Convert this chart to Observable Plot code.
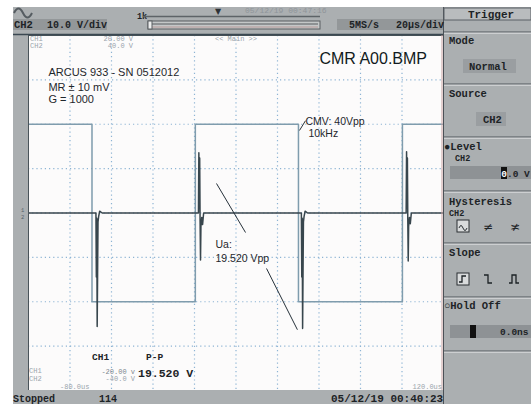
<!DOCTYPE html>
<html><head><meta charset="utf-8">
<script src="https://cdn.jsdelivr.net/npm/d3@7"></script>
<script src="https://cdn.jsdelivr.net/npm/@observablehq/plot@0.6"></script>
<style>
body{margin:0;background:#fff;}
#wrap{position:relative;width:531px;height:407px;overflow:hidden;background:#fff;}
</style></head><body><div id="wrap"></div>
<script>
// ---- data (time in µs, values in volts) ----
const xTicks = [-60, -40, -20, 0, 20, 40, 60, 80, 100];   // 20 µs/div
const yTicks = [-3, -2, -1, 1, 2, 3, 0];                  // divisions
const ch1VoltsPerDiv = 5;
const ch2VoltsPerDiv = 10;
// CH2: common-mode square wave 40 Vpp, 10 kHz
const ch2Time  = [-80, -49.4, -49.4, 0.4, 0.4, 50.1, 50.1, 100.2, 100.2, 120];
const ch2Volts = [ 20,  20,   -20,  -20,  20,  20,  -20,  -20,    20,   20];
// CH1: amplifier output Ua (spikes at each edge)
const ch1Time  = [-80, -48, -47.5, -47.3, -47.1, -46.9, -46.7, -46.5, -46.2, -45.7, -44.5,
                  1.9, 2.1, 2.3, 2.5, 2.7, 2.9, 3.1, 3.5, 3.9, 4.4,
                  51.5, 51.7, 51.9, 52.1, 52.3, 52.5, 52.8, 53.3, 54.5,
                  102.0, 102.2, 102.4, 102.6, 102.8, 103.0, 103.2, 103.6, 104.0, 104.5, 120];
const ch1Volts = [0, 0, 0, -7.2, -0.6, -12.8, -6.8, -1.0, -0.4, 0.2, 0,
                  0, 6.8, 0.5, 6.2, -1.0, -5.3, -1.5, -0.5, -1.3, 0,
                  0, -7.2, -0.6, -13.0, -6.8, -1.0, -0.4, 0.2, 0,
                  0, 6.9, 0.5, 6.2, -1.0, -5.4, -1.5, -0.5, -1.2, 0, 0];
// annotations (anchored in data space: µs, divisions)
const infoLabels = ["ARCUS 933 - SN 0512012", "MR ± 10 mV", "G = 1000"];
const infoT = [-70.4, -70.4, -70.4];
const infoDiv = [3.08, 2.76, 2.47];
const noteLabels = ["CMV: 40Vpp", "10kHz", "Ua:", "19.520 Vpp"];
const noteT = [53.5, 54.9, 10.1, 10.1];
const noteDiv = [1.98, 1.71, -0.78, -1.11];
const titleLabel = ["CMR A00.BMP"];
const titleT = [60.2];
const titleDiv = [3.35];
const leaderT1 = [10.6, 34.7, 50.6];
const leaderD1 = [0.665, -1.25, 1.86];
const leaderT2 = [24.6, 49.6, 53.5];
const leaderD2 = [-0.44, -2.63, 2.08];

const ch2 = ch2Time.map((t, i) => ({t, div: ch2Volts[i] / ch2VoltsPerDiv}));
const ch1 = ch1Time.map((t, i) => ({t, div: ch1Volts[i] / ch1VoltsPerDiv}));
const info = infoLabels.map((label, i) => ({label, t: infoT[i], div: infoDiv[i]}));
const notes = noteLabels.map((label, i) => ({label, t: noteT[i], div: noteDiv[i]}));
const title = titleLabel.map((label, i) => ({label, t: titleT[i], div: titleDiv[i]}));
const leaders = leaderT1.map((t1, i) => ({t1, d1: leaderD1[i], t2: leaderT2[i], d2: leaderD2[i]}));

const MONO = "'Liberation Mono','DejaVu Sans Mono',monospace";
const SANS = "'Liberation Sans',Arial,sans-serif";

const chart = Plot.plot({
  width: 531, height: 407,
  marginLeft: 28, marginRight: 88, marginTop: 35, marginBottom: 17,
  x: {domain: [-80, 120], axis: null},
  y: {domain: [-4, 4], axis: null},
  style: {background: "#fff", overflow: "visible"},
  marks: [
    Plot.frame({fill: "#fcfbfb", stroke: null}),
    Plot.gridX(xTicks, {stroke: "#8db4d4", strokeOpacity: 1, strokeWidth: 1.2, strokeDasharray: "1.2,3"}),
    Plot.gridY(yTicks, {stroke: "#8db4d4", strokeOpacity: 1, strokeWidth: 1.2, strokeDasharray: "1.2,3"}),
    Plot.line(ch2, {x: "t", y: "div", stroke: "#7f9cad", strokeWidth: 1.5}),
    Plot.line(ch1, {x: "t", y: "div", stroke: "#38464d", strokeWidth: 1.5}),
    Plot.link(leaders, {x1: "t1", y1: "d1", x2: "t2", y2: "d2", stroke: "#26313a", strokeWidth: 1}),
    Plot.text(info, {x: "t", y: "div", text: "label", textAnchor: "start", lineAnchor: "bottom",
      fontSize: 11, fontFamily: SANS, fill: "#1f272c"}),
    Plot.text(notes, {x: "t", y: "div", text: "label", textAnchor: "start", lineAnchor: "bottom",
      fontSize: 10.5, fontFamily: SANS, fill: "#1f272c"}),
    Plot.text(title, {x: "t", y: "div", text: "label", textAnchor: "start", lineAnchor: "bottom",
      fontSize: 16, fontFamily: SANS, fill: "#111a20"}),
    Plot.frame({stroke: "#4a545a", strokeWidth: 1})
  ]
});
document.getElementById("wrap").appendChild(chart);

// ---- oscilloscope chrome (outside the plotting frame) ----
const svg = d3.select(chart);
const ui = svg.append("g");
function rect(x, y, w, h, fill, stroke) {
  ui.append("rect").attr("x", x).attr("y", y).attr("width", w).attr("height", h)
    .attr("fill", fill).attr("stroke", stroke || "none");
}
function hline(x1, x2, y, color, w) {
  ui.append("line").attr("x1", x1).attr("x2", x2).attr("y1", y).attr("y2", y)
    .attr("stroke", color).attr("stroke-width", w || 1);
}
function vline(x, y1, y2, color, w) {
  ui.append("line").attr("x1", x).attr("x2", x).attr("y1", y1).attr("y2", y2)
    .attr("stroke", color).attr("stroke-width", w || 1);
}
function txt(s, x, y, o = {}) {
  ui.append("text").attr("x", x).attr("y", y).text(s)
    .attr("font-family", o.family || MONO).attr("font-size", o.size || 11)
    .attr("font-weight", o.weight || "bold").attr("fill", o.fill || "#1d2326")
    .attr("text-anchor", o.anchor || "start");
}
function path(d, stroke, w) {
  ui.append("path").attr("d", d).attr("fill", "none").attr("stroke", stroke || "#1d2326").attr("stroke-width", w || 1.3);
}
const G = "#abafb1";
rect(13, 7, 430, 28, G);        // header
rect(13, 35, 15, 355, G);       // left strip
rect(13, 390, 430, 14, G);      // status bar
rect(443, 7, 88, 397, G);       // right menu
hline(13, 443, 34.5, "#3b4852", 1.5);
vline(443.5, 7, 404, "#4b5157", 1);
vline(442, 35, 390, "#c9a3a3", 1);

// header
path("M14,13 q4.5,-9 9,0 t9,0", "#555c61", 2);
rect(13, 19, 94, 11, "#939799");
txt("CH2", 14, 28, {size: 10.5});
txt("10.0 V/div", 47, 28, {size: 10});
txt("1k", 137, 19, {size: 8.5});
hline(143, 320, 16.5, "#5d6367", 1.5);
rect(148, 21, 172, 8, "#c4c7c8", "#5a5f63");
hline(152, 318, 24, "#565b5f", 1);
hline(152, 318, 27, "#b99a9a", 1);
rect(148, 21, 4, 8, "#eceded", "#5a5f63");
txt("▼", 218, 14, {size: 8, anchor: "middle", fill: "#2d3236", family: "'DejaVu Sans',sans-serif"});
txt("05/12/19 00:47:16", 245, 13, {size: 8, weight: "normal", fill: "#8f959a"});
rect(337, 19, 106, 11, "#939799");
txt("5MS/s", 349, 28, {size: 10});
txt("20µs/div", 396, 28, {size: 10});

// right menu
rect(444, 8, 87, 12, "#b9bcbe", "#5b6166");
txt("Trigger", 491, 18, {size: 11, anchor: "middle"});
[32, 84, 137, 191, 243, 297, 351].forEach(y => { hline(444, 531, y, "#50575d", 1); hline(444, 531, y + 1.2, "#dcdedf", 1); });
txt("Mode", 449, 44, {size: 10.5});
rect(463, 59, 53, 14, "#9a9ea1");
txt("Normal", 469, 70, {size: 10.5});
txt("Source", 449, 97, {size: 10.5});
rect(476, 112, 30, 14, "#9a9ea1");
txt("CH2", 483, 123, {size: 10.5});
txt("●Level", 444, 150, {size: 10.5});
txt("CH2", 455, 161, {size: 8.5});
rect(450, 166, 81, 13, "#8e9295");
rect(501, 167, 6, 12, "#111");
txt("0", 501.3, 177, {size: 9.5, fill: "#fff"});
txt(".0 V", 507, 177, {size: 9.5});
txt("Hysteresis", 449, 205, {size: 10.5});
txt("CH2", 449, 216, {size: 8.5});
rect(457, 220, 12, 12, "#d9dbdc", "#2a2f33");
path("M459,228 q2,-5 4,0 t4,0", "#2a2f33", 1);
txt("≠", 488, 231, {size: 12, anchor: "middle", weight: "normal", family: "'DejaVu Sans',sans-serif"});
txt("≭", 515, 231, {size: 12, anchor: "middle", weight: "normal", family: "'DejaVu Sans',sans-serif"});
txt("Slope", 449, 256, {size: 10.5});
rect(457, 273, 12, 12, "#d9dbdc", "#2a2f33");
path("M459,282 h3 v-6 h4");
path("M484,275 h4 v8 h4");
path("M509,283 h3 v-8 h4 v8 h3");
txt("○Hold Off", 444, 309, {size: 10.5});
rect(450, 325, 81, 13, "#8e9295");
rect(470, 325, 6, 13, "#111");
txt("0.0ns", 500, 335, {size: 9.5});

// status bar
txt("Stopped", 13, 402, {size: 10});
txt("114", 99, 402, {size: 10});
txt("05/12/19 00:40:23", 331, 402, {size: 11});
txt("1", 21, 212, {size: 5.5, weight: "normal", fill: "#56636b"});
txt("2", 21, 219, {size: 5.5, weight: "normal", fill: "#56636b"});

// on-screen readouts inside the graticule
const faint = {size: 7, weight: "normal", fill: "#9aa4ab"};
txt("CH1", 30, 41, faint); txt("CH2", 30, 48, faint);
txt("20.00 V", 133, 41, {...faint, anchor: "end"});
txt("40.0 V", 133, 48, {...faint, anchor: "end"});
txt("<< Main >>", 215, 41, faint);
txt("CH1", 29, 373, faint); txt("CH2", 29, 380.5, faint);
txt("-20.00 v", 135, 374, {...faint, fill: "#7d878e", anchor: "end"});
txt("-40.0 V", 135, 381, {...faint, anchor: "end"});
txt("-80.0us", 60, 389, faint);
txt("120.0us", 442, 389, {...faint, anchor: "end"});
txt("CH1", 92, 360, {size: 9.5});
txt("P-P", 146, 360, {size: 9.5});
txt("19.520 V", 138, 377, {size: 11.5});
</script></body></html>
